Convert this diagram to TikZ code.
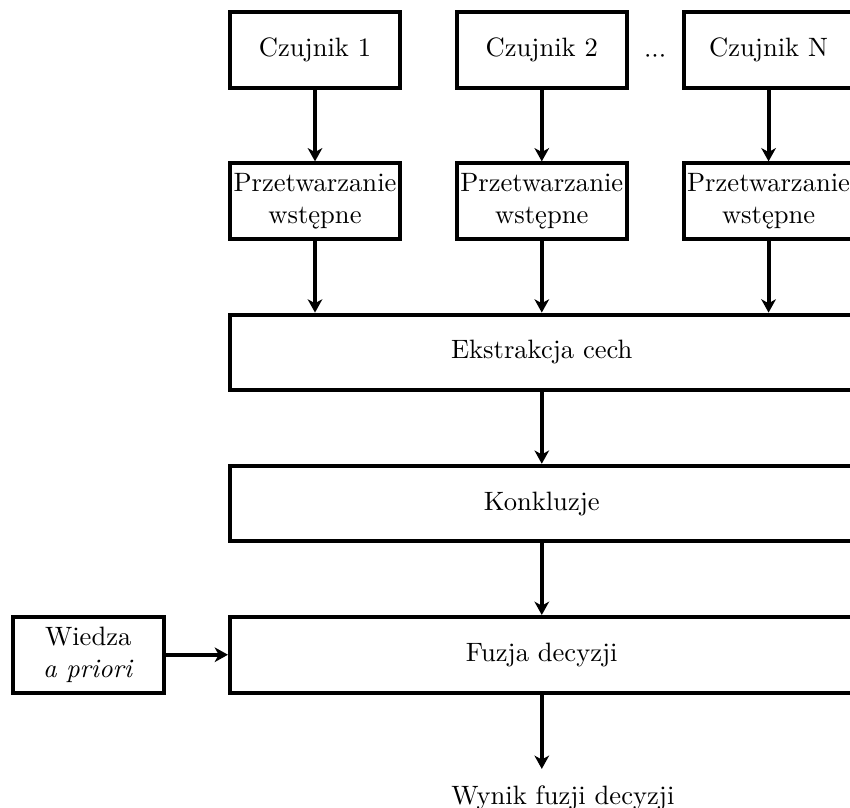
\documentclass[tikz,border=0pt]{standalone}
\usepackage{tikz}
\usetikzlibrary{arrows.meta}

\begin{document}
\begin{tikzpicture}[
        block/.style={
            draw, line width=1.5pt,
            minimum width=2.25cm, minimum height=1cm,
            inner sep=1pt, align=center
        },
        wideblock/.style={block, minimum width=8.25cm},
        flow/.style={line width=1.5pt, -{Stealth[length=5pt,width=5.5pt,inset=1.5pt]}}
    ]

        \clip (-4.167,0.661) rectangle (7.077,-10.027);

        \node[block] (sensor1) at (0,0) {Czujnik 1};
        \node[block] (sensor2) at (3,0) {Czujnik 2};
        \node[block] (sensorN) at (6,0) {Czujnik N};
        \node[inner sep=0pt] (dots) at (4.5,-0.09) {${\cdot}{\cdot}{\cdot}$};

        \node[block] (pre1) at (0,-2) {Przetwarzanie\\wstępne};
        \node[block] (pre2) at (3,-2) {Przetwarzanie\\wstępne};
        \node[block] (preN) at (6,-2) {Przetwarzanie\\wstępne};

        \node[wideblock] (features) at (3,-4) {Ekstrakcja cech};
        \node[wideblock] (conclusions) at (3,-6) {Konkluzje};
        \node[wideblock] (fusion) at (3,-8) {Fuzja decyzji};
        \node[block, minimum width=2cm] (apriori) at (-3,-8) {Wiedza\\\textit{a priori}};

        \coordinate (resultin) at (3,-9.51);
        \node[anchor=north, inner sep=6pt] (result) at ([xshift=0.28cm]resultin) {Wynik fuzji decyzji};

        \draw[flow] (sensor1) -- (pre1);
        \draw[flow] (sensor2) -- (pre2);
        \draw[flow] (sensorN) -- (preN);

        \draw[flow] (pre1) -- (pre1 |- features.north);
        \draw[flow] (pre2) -- (pre2 |- features.north);
        \draw[flow] (preN) -- (preN |- features.north);

        \draw[flow] (features) -- (conclusions);
        \draw[flow] (conclusions) -- (fusion);
        \draw[flow] (apriori) -- (fusion);
        \draw[flow] (fusion) -- (resultin);
    \end{tikzpicture}
\end{document}
